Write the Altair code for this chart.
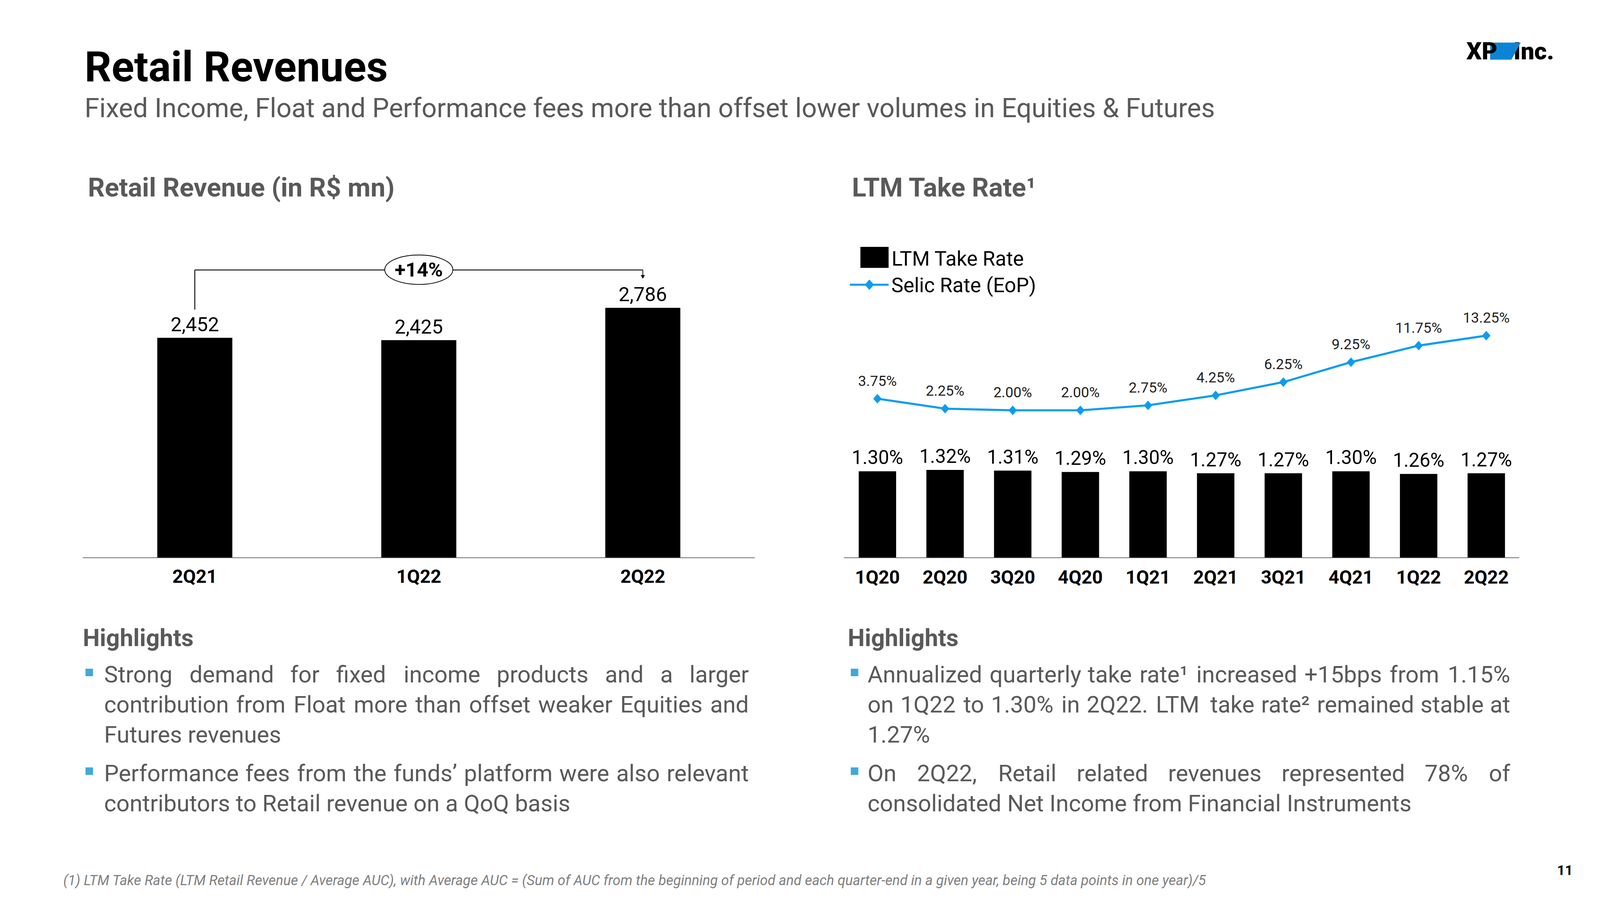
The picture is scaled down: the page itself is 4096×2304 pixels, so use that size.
import altair as alt
import pandas as pd

# ---------------- data ----------------
rev_quarters = ["2Q21", "1Q22", "2Q22"]
rev_values = [2452, 2425, 2786]
rev_labels = ["2,452", "2,425", "2,786"]
growth_label = "+14%"

tr_quarters = ["1Q20", "2Q20", "3Q20", "4Q20", "1Q21", "2Q21", "3Q21", "4Q21", "1Q22", "2Q22"]
take_rate = [1.30, 1.32, 1.31, 1.29, 1.30, 1.27, 1.27, 1.30, 1.26, 1.27]
take_rate_labels = ["1.30%", "1.32%", "1.31%", "1.29%", "1.30%", "1.27%", "1.27%", "1.30%", "1.26%", "1.27%"]
selic_rate = [3.75, 2.25, 2.00, 2.00, 2.75, 4.25, 6.25, 9.25, 11.75, 13.25]
selic_labels = ["3.75%", "2.25%", "2.00%", "2.00%", "2.75%", "4.25%", "6.25%", "9.25%", "11.75%", "13.25%"]

title_text = "Retail Revenues"
subtitle_text = "Fixed Income, Float and Performance fees more than offset lower volumes in Equities & Futures"
left_header = "Retail Revenue (in R$ mn)"
right_header = "LTM Take Rate\u00b9"
legend_bar = "LTM Take Rate"
legend_line = "Selic Rate (EoP)"
left_bullets = [
    ["Strong demand for fixed income products and a larger",
     "contribution from Float more than offset weaker Equities and",
     "Futures revenues"],
    ["Performance fees from the funds\u2019 platform were also relevant",
     "contributors to Retail revenue on a QoQ basis"],
]
right_bullets = [
    ["Annualized quarterly take rate\u00b9 increased +15bps from 1.15%",
     "on 1Q22 to 1.30% in 2Q22. LTM take rate\u00b2 remained stable at",
     "1.27%"],
    ["On 2Q22, Retail related revenues represented 78% of",
     "consolidated Net Income from Financial Instruments"],
]
footnote = ("(1) LTM Take Rate (LTM Retail Revenue / Average AUC), with Average AUC = (Sum of AUC from the "
            "beginning of period and each quarter-end in a given year, being 5 data points in one year)/5")
page_no = "11"

# ---------------- layout helpers ----------------
S = 0.768


def P(v):  # reference pixel position -> chart pixel
    return round(v * S - 8, 2)


def F(v):  # reference pixel size -> output pixel size
    return round(v * S, 2)


FONT = "Roboto"
GRAY = "#595959"
BLUE = "#0A9CF2"
BULLET = "#41A8DC"

ADV = {" ": 507, "!": 527, "$": 1150, "%": 1500, "&": 1273, "'": 349, "(": 700, ")": 712, "+": 1134,
       ",": 402, "-": 565, ".": 539, "/": 845, ":": 496, "=": 1124, "\u2019": 402, "\u00b9": 760, "\u00b2": 760,
       "A": 1336, "B": 1275, "C": 1333, "D": 1343, "E": 1164, "F": 1132, "G": 1396, "H": 1460, "I": 557,
       "J": 1130, "K": 1284, "L": 1102, "M": 1788, "N": 1460, "O": 1408, "P": 1292, "Q": 1408, "R": 1261,
       "S": 1217, "T": 1222, "U": 1328, "V": 1303, "W": 1817, "X": 1284, "Y": 1230, "Z": 1226,
       "a": 1087, "b": 1122, "c": 1047, "d": 1128, "e": 1058, "f": 696, "g": 1122, "h": 1103, "i": 486,
       "j": 478, "k": 1014, "l": 486, "m": 1754, "n": 1105, "o": 1141, "p": 1122, "q": 1128, "r": 678,
       "s": 1031, "t": 655, "u": 1102, "v": 968, "w": 1502, "x": 991, "y": 946, "z": 991}
for d in "0123456789":
    ADV[d] = 1150
WCAL = 1.016  # calibration of the width table against the rendered text


def text_w(s, fs):
    return sum(ADV.get(c, 1100) for c in s) / 2048.0 * fs * WCAL


one = pd.DataFrame({"k": [0]})


def txt(text, x, y, size, color="black", weight="normal", align="left", baseline="alphabetic", style="normal"):
    return alt.Chart(one).mark_text(
        text=text, font=FONT, fontSize=size, color=color, fontWeight=weight, align=align,
        baseline=baseline, fontStyle=style
    ).encode(x=alt.value(x), y=alt.value(y))


def box(x1, x2, y1, y2, color):
    return alt.Chart(one).mark_rect(color=color).encode(
        x=alt.value(x1), x2=alt.value(x2), y=alt.value(y1), y2=alt.value(y2))


layers = []

# ---------------- titles ----------------
layers.append(txt(title_text, P(282), P(271), F(140), "black", "bold"))
layers.append(txt(subtitle_text, P(282), P(391), F(88.9), GRAY))
layers.append(txt(left_header, P(293), P(655), F(88), GRAY, "bold"))
layers.append(txt(right_header, P(2840), P(655), F(88), GRAY, "bold"))

# logo
layers.append(txt("Inc.", P(5045), P(198), F(80), "black", 900))
TRAP = "M -1 -0.559 L 1 -0.559 L 0.392 0.559 L -1 0.559 Z"
layers.append(alt.Chart(one).mark_point(shape=TRAP, filled=True, color="#0B84D6", opacity=1,
                                        size=(F(102)) ** 2).encode(x=alt.value(P(5018)), y=alt.value(P(170.5))))
layers.append(txt("XP", P(4888), P(198), F(80), "black", 900))

# ---------------- left chart: Retail revenue ----------------
rev_df = pd.DataFrame({"q": rev_quarters, "v": rev_values, "lbl": rev_labels})
rev_x_band = alt.Scale(type="band", domain=rev_quarters, range=[P(276), P(2516)],
                       paddingInner=0.665, paddingOuter=0.3325)
rev_x_pt = alt.Scale(type="point", domain=rev_quarters, range=[P(276), P(2516)], padding=0.5)
rev_y = alt.Scale(domain=[0, 3000], range=[P(1858), P(1858 - 3000 * 0.2986)], nice=False)

layers.append(alt.Chart(rev_df).mark_bar(color="black").encode(
    x=alt.X("q:N", scale=rev_x_band, axis=None), y=alt.Y("v:Q", scale=rev_y, axis=None)))
layers.append(alt.Chart(rev_df).mark_text(font=FONT, fontSize=F(66), baseline="alphabetic", dy=-F(22),
                                          color="black").encode(
    x=alt.X("q:N", scale=rev_x_pt, axis=None), y=alt.Y("v:Q", scale=rev_y, axis=None), text="lbl:N"))
layers.append(alt.Chart(rev_df).mark_text(font=FONT, fontSize=F(62), fontWeight="bold", baseline="alphabetic",
                                          color="black").encode(
    x=alt.X("q:N", scale=rev_x_pt, axis=None), y=alt.value(P(1943)), text="q:N"))
layers.append(alt.Chart(one).mark_rule(color="#404040", strokeWidth=1.5).encode(
    x=alt.value(P(276)), x2=alt.value(P(2516)), y=alt.value(P(1859))))

# growth bracket
br_df = pd.DataFrame({"a": [rev_quarters[0]], "b": [rev_quarters[2]], "m": [rev_quarters[1]], "g": [growth_label]})
layers.append(alt.Chart(br_df).mark_rule(color="black", strokeWidth=F(3)).encode(
    x=alt.X("a:N", scale=rev_x_pt, axis=None), x2="b:N", y=alt.value(P(900))))
layers.append(alt.Chart(br_df).mark_rule(color="black", strokeWidth=F(3)).encode(
    x=alt.X("a:N", scale=rev_x_pt, axis=None), y=alt.value(P(900)), y2=alt.value(P(1032))))
layers.append(alt.Chart(br_df).mark_rule(color="black", strokeWidth=F(2.5)).encode(
    x=alt.X("b:N", scale=rev_x_pt, axis=None), y=alt.value(P(900)), y2=alt.value(P(920))))
layers.append(alt.Chart(br_df).mark_point(shape="triangle-down", filled=True, color="black", opacity=1,
                                          size=F(14) ** 2).encode(
    x=alt.X("b:N", scale=rev_x_pt, axis=None), y=alt.value(P(923))))
ELL = "M -1 0 A 1 0.432 0 1 1 1 0 A 1 0.432 0 1 1 -1 0 Z"
layers.append(alt.Chart(br_df).mark_point(shape=ELL, filled=True, fill="white", stroke="black",
                                          strokeWidth=F(2.5), opacity=1, size=F(227) ** 2).encode(
    x=alt.X("m:N", scale=rev_x_pt, axis=None), y=alt.value(P(899))))
layers.append(alt.Chart(br_df).mark_text(font=FONT, fontSize=F(66), fontWeight="bold", baseline="middle",
                                         color="black").encode(
    x=alt.X("m:N", scale=rev_x_pt, axis=None), y=alt.value(P(902)), text="g:N"))

# ---------------- right chart: LTM take rate & Selic ----------------
tr_df = pd.DataFrame({"q": tr_quarters, "idx": list(range(len(tr_quarters))), "tr": take_rate,
                      "trl": take_rate_labels, "s": selic_rate, "sl": selic_labels})
tr_x_band = alt.Scale(type="band", domain=tr_quarters, range=[P(2812), P(5067)],
                      paddingInner=0.447, paddingOuter=0.2235)
tr_x_pt = alt.Scale(type="point", domain=tr_quarters, range=[P(2812), P(5067)], padding=0.5)
tr_y = alt.Scale(domain=[0, 2], range=[P(1858), P(1858 - 2 * 220.8)], nice=False)
selic_y = alt.Scale(domain=[0, 15], range=[P(1412), P(1412 - 15 * 22.13)], nice=False)

layers.append(alt.Chart(tr_df).mark_bar(color="black").encode(
    x=alt.X("q:N", scale=tr_x_band, axis=None), y=alt.Y("tr:Q", scale=tr_y, axis=None)))
layers.append(alt.Chart(tr_df).mark_text(font=FONT, fontSize=F(64), baseline="alphabetic", dy=-F(23.5),
                                         color="black").encode(
    x=alt.X("q:N", scale=tr_x_pt, axis=None), y=alt.Y("tr:Q", scale=tr_y, axis=None), text="trl:N"))
layers.append(alt.Chart(tr_df).mark_text(font=FONT, fontSize=F(62), fontWeight="bold", baseline="alphabetic",
                                         color="black").encode(
    x=alt.X("q:N", scale=tr_x_pt, axis=None), y=alt.value(P(1945)), text="q:N"))
layers.append(alt.Chart(one).mark_rule(color="#404040", strokeWidth=1.5).encode(
    x=alt.value(P(2813)), x2=alt.value(P(5064)), y=alt.value(P(1859))))

DIAM = "M 0 -1 L 0.875 0 L 0 1 L -0.875 0 Z"
layers.append(alt.Chart(tr_df).mark_line(color=BLUE, strokeWidth=F(7)).encode(
    x=alt.X("q:N", scale=tr_x_pt, axis=None), y=alt.Y("s:Q", scale=selic_y, axis=None),
    order=alt.Order("idx:Q")))
layers.append(alt.Chart(tr_df).mark_point(shape=DIAM, filled=True, color=BLUE, opacity=1,
                                          size=F(32) ** 2).encode(
    x=alt.X("q:N", scale=tr_x_pt, axis=None), y=alt.Y("s:Q", scale=selic_y, axis=None)))
layers.append(alt.Chart(tr_df).mark_text(font=FONT, fontSize=F(48), baseline="alphabetic", dy=-F(43),
                                         color="#222222").encode(
    x=alt.X("q:N", scale=tr_x_pt, axis=None), y=alt.Y("s:Q", scale=selic_y, axis=None), text="sl:N"))

# legend
layers.append(box(P(2868), P(2962), P(823), P(893), "black"))
layers.append(txt(legend_bar, P(2972), P(885), F(68), "black"))
layers.append(alt.Chart(one).mark_rule(color=BLUE, strokeWidth=F(7)).encode(
    x=alt.value(P(2833)), x2=alt.value(P(2962)), y=alt.value(P(949))))
layers.append(alt.Chart(one).mark_point(shape=DIAM, filled=True, color=BLUE, opacity=1,
                                        size=F(35) ** 2).encode(x=alt.value(P(2898)), y=alt.value(P(949))))
layers.append(txt(legend_line, P(2971), P(974), F(68), "black"))

# ---------------- highlights (justified text laid out word by word) ----------------
HL_FS = F(77.6)
line_y = [[2275, 2375, 2475], [2604, 2704]]
word_rows_left = []   # words placed by their left edge
word_rows_right = []  # last word of a justified line, placed by its right edge


def highlights(x_head, x_bullet, x_text, x_right, bullets):
    out = [txt("Highlights", P(x_head), P(2154), F(80), GRAY, "bold")]
    x0 = P(x_text)
    target = (x_right - x_text) * S
    for b, lines in enumerate(bullets):
        ys = line_y[b]
        out.append(box(P(x_bullet), P(x_bullet + 25), P(ys[0] - 46), P(ys[0] - 21), BULLET))
        for j, ln in enumerate(lines):
            if j < len(lines) - 1:
                words = ln.split(" ")
                widths = [text_w(w, HL_FS) for w in words]
                gap = (target - sum(widths)) / (len(words) - 1)
                x = x0
                for i, w in enumerate(words):
                    if i == len(words) - 1:
                        word_rows_right.append({"w": w, "px": x0 + target, "py": P(ys[j])})
                    else:
                        word_rows_left.append({"w": w, "px": x, "py": P(ys[j])})
                    x += widths[i] + gap
            else:
                out.append(txt(ln, x0, P(ys[j]), HL_FS, GRAY))
    return out


layers += highlights(276, 285, 347, 2496, left_bullets)
layers += highlights(2826, 2836, 2892, 5034, right_bullets)
for rows, al in ((word_rows_left, "left"), (word_rows_right, "right")):
    layers.append(alt.Chart(pd.DataFrame(rows)).mark_text(
        font=FONT, fontSize=HL_FS, color=GRAY, align=al, baseline="alphabetic").encode(
        x=alt.X("px:Q", scale=None, axis=None), y=alt.Y("py:Q", scale=None, axis=None), text="w:N"))

# ---------------- footnote & page number ----------------
layers.append(txt(footnote, P(211), P(2950), F(46.8), "#7F7F7F", style="italic"))
layers.append(txt(page_no, P(5190), P(2917), F(46), "black", "bold"))

chart = alt.layer(*layers).resolve_scale(x="independent", y="independent").properties(
    width=4080, height=2288, autosize=alt.AutoSizeParams(type="none"), padding=0,
    background="white"
).configure_view(stroke=None)

chart.save("out.html", embed_options={"renderer": "svg", "actions": False})
